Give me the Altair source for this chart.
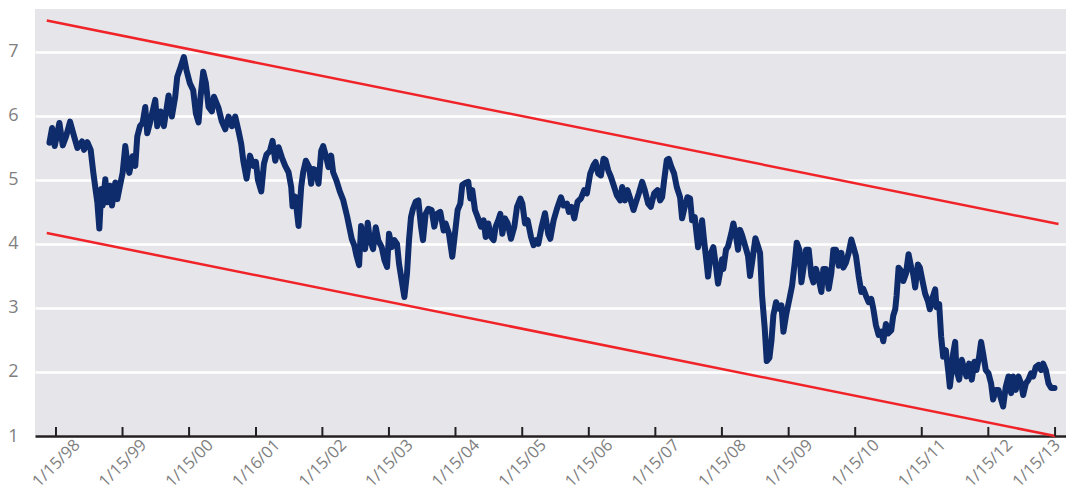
import altair as alt
import pandas as pd

# decimal-year positions and yield values
t_years = [
1997.94,1997.98,1998.02,1998.09,1998.14,1998.19,1998.25,1998.30,1998.36,1998.43,1998.46,1998.51,1998.56,1998.60,1998.64,1998.66,1998.69,1998.72,1998.74,1998.78,
1998.81,1998.85,1998.88,1998.93,1998.96,1999.00,1999.04,1999.08,1999.11,1999.14,1999.19,1999.23,1999.26,1999.30,1999.34,1999.38,1999.41,1999.45,1999.53,1999.56,
1999.61,1999.66,1999.73,1999.78,1999.83,1999.86,1999.91,1999.96,2000.00,2000.05,2000.10,2000.14,2000.18,2000.21,2000.25,2000.29,2000.33,2000.38,2000.41,2000.48,
2000.53,2000.58,2000.63,2000.68,2000.73,2000.78,2000.82,2000.85,2000.90,2000.95,2001.00,2001.04,2001.07,2001.12,2001.16,2001.20,2001.25,2001.29,2001.33,2001.38,
2001.43,2001.48,2001.53,2001.57,2001.59,2001.63,2001.68,2001.72,2001.75,2001.79,2001.84,2001.87,2001.90,2001.94,2001.98,2002.02,2002.05,2002.09,2002.13,2002.17,
2002.20,2002.25,2002.30,2002.35,2002.41,2002.44,2002.48,2002.52,2002.55,2002.59,2002.62,2002.65,2002.68,2002.72,2002.75,2002.80,2002.84,2002.88,2002.93,2002.97,
2003.01,2003.04,2003.08,2003.12,2003.16,2003.19,2003.23,2003.27,2003.31,2003.34,2003.37,2003.40,2003.44,2003.48,2003.52,2003.55,2003.59,2003.63,2003.68,2003.72,
2003.76,2003.81,2003.86,2003.89,2003.94,2003.99,2004.03,2004.07,2004.11,2004.14,2004.18,2004.23,2004.26,2004.29,2004.33,2004.37,2004.42,2004.46,2004.49,2004.53,
2004.57,2004.61,2004.64,2004.68,2004.71,2004.74,2004.78,2004.82,2004.87,2004.92,2004.96,2005.01,2005.04,2005.08,2005.12,2005.17,2005.21,2005.25,2005.28,2005.33,
2005.38,2005.43,2005.46,2005.51,2005.56,2005.62,2005.66,2005.71,2005.74,2005.78,2005.82,2005.87,2005.92,2005.97,2006.01,2006.06,2006.11,2006.14,2006.18,2006.22,
2006.26,2006.29,2006.33,2006.37,2006.42,2006.46,2006.51,2006.54,2006.58,2006.62,2006.66,2006.71,2006.74,2006.79,2006.84,2006.88,2006.93,2006.97,2007.02,2007.07,
2007.11,2007.14,2007.17,2007.21,2007.24,2007.28,2007.32,2007.36,2007.41,2007.44,2007.48,2007.52,2007.56,2007.59,2007.63,2007.68,2007.71,2007.74,2007.77,2007.81,
2007.83,2007.87,2007.91,2007.95,2007.98,2008.01,2008.04,2008.06,2008.10,2008.13,2008.18,2008.21,2008.25,2008.28,2008.31,2008.34,2008.39,2008.43,2008.46,2008.49,
2008.54,2008.58,2008.61,2008.64,2008.68,2008.71,2008.75,2008.78,2008.81,2008.85,2008.89,2008.93,2008.96,2009.00,2009.05,2009.09,2009.13,2009.16,2009.20,2009.23,
2009.26,2009.30,2009.34,2009.38,2009.41,2009.45,2009.49,2009.53,2009.56,2009.60,2009.64,2009.68,2009.71,2009.75,2009.79,2009.83,2009.86,2009.90,2009.94,2009.98,
2010.01,2010.05,2010.09,2010.13,2010.16,2010.20,2010.24,2010.28,2010.31,2010.35,2010.39,2010.43,2010.46,2010.50,2010.53,2010.58,2010.61,2010.64,2010.66,2010.69,
2010.73,2010.76,2010.80,2010.84,2010.88,2010.91,2010.94,2010.98,2011.01,2011.05,2011.09,2011.13,2011.16,2011.20,2011.24,2011.26,2011.30,2011.33,2011.36,2011.40,
2011.44,2011.46,2011.49,2011.51,2011.54,2011.56,2011.60,2011.64,2011.68,2011.71,2011.75,2011.79,2011.83,2011.86,2011.90,2011.93,2011.96,2012.00,2012.04,2012.08,
2012.11,2012.15,2012.19,2012.23,2012.26,2012.30,2012.34,2012.38,2012.41,2012.45,2012.49,2012.53,2012.56,2012.60,2012.64,2012.68,2012.71,2012.75,2012.79,2012.83,
2012.86,2012.90,2012.94,2012.98,2013.03,
]

yields = [
5.58,5.81,5.53,5.89,5.54,5.68,5.91,5.72,5.50,5.60,5.47,5.59,5.47,5.11,4.80,4.65,4.24,4.86,4.60,5.01,
4.65,4.91,4.60,4.96,4.70,4.91,5.11,5.53,5.27,5.11,5.37,5.22,5.68,5.84,5.89,6.14,5.73,5.89,6.25,5.84,
6.07,5.84,6.32,5.99,6.30,6.61,6.76,6.92,6.71,6.51,6.40,6.04,5.90,6.30,6.69,6.51,6.14,6.07,6.30,6.12,
5.91,5.79,5.99,5.84,5.99,5.76,5.56,5.30,5.02,5.38,5.22,5.28,5.00,4.82,5.25,5.40,5.45,5.61,5.30,5.51,
5.35,5.22,5.12,4.89,4.59,4.74,4.28,4.89,5.12,5.30,5.20,4.94,5.17,5.15,4.94,5.45,5.53,5.38,5.20,5.38,
5.12,4.99,4.82,4.69,4.43,4.28,4.08,3.97,3.82,3.67,4.28,3.97,3.92,4.33,4.08,3.92,4.26,4.05,3.95,3.75,
3.64,4.16,3.95,4.06,4.00,3.69,3.43,3.17,3.54,4.06,4.42,4.55,4.66,4.68,4.27,4.06,4.47,4.55,4.53,4.27,
4.47,4.50,4.21,4.32,4.16,3.80,4.16,4.53,4.63,4.92,4.95,4.97,4.71,4.84,4.53,4.42,4.27,4.37,4.11,4.32,
4.11,4.06,4.27,4.37,4.47,4.16,4.40,4.32,4.08,4.27,4.58,4.71,4.63,4.32,4.37,4.11,3.98,4.06,4.00,4.27,
4.48,4.15,4.08,4.37,4.55,4.73,4.60,4.63,4.50,4.58,4.40,4.66,4.71,4.84,4.79,5.10,5.23,5.28,5.10,5.07,
5.33,5.31,5.15,5.05,4.89,4.76,4.68,4.89,4.68,4.84,4.71,4.53,4.63,4.79,4.97,4.84,4.63,4.58,4.79,4.84,
4.68,4.73,4.99,5.31,5.33,5.20,5.10,4.89,4.73,4.40,4.58,4.73,4.71,4.37,4.42,3.95,4.11,4.37,4.06,3.69,
3.49,3.85,3.95,3.64,3.38,3.55,3.76,3.61,3.91,3.96,4.17,4.32,4.12,3.91,4.22,4.14,3.96,3.81,3.50,3.71,
4.09,3.96,3.86,3.19,2.68,2.17,2.22,2.48,2.89,3.09,2.99,3.04,2.63,2.89,3.14,3.35,3.71,4.02,3.91,3.40,
3.61,3.91,3.91,3.50,3.40,3.61,3.45,3.25,3.61,3.61,3.30,3.55,3.91,3.91,3.66,3.86,3.63,3.71,3.86,4.07,
3.96,3.81,3.50,3.25,3.30,3.19,3.09,3.14,2.99,2.73,2.58,2.63,2.48,2.75,2.60,2.65,2.88,2.98,3.19,3.63,
3.58,3.42,3.53,3.84,3.63,3.53,3.32,3.68,3.63,3.42,3.22,3.11,2.98,3.16,3.29,3.01,3.06,2.55,2.24,2.34,
1.98,1.77,2.03,2.29,2.47,2.03,1.88,2.19,2.03,1.93,2.13,1.88,2.16,2.03,2.24,2.47,2.29,2.03,1.98,1.82,
1.57,1.72,1.72,1.57,1.46,1.77,1.93,1.67,1.93,1.72,1.93,1.82,1.64,1.82,1.88,1.98,1.93,2.08,2.11,2.03,
2.13,2.03,1.82,1.75,1.75,
]

# trend channel lines (start / end)
trend_names = ["upper", "upper", "lower", "lower"]
trend_years = [1997.90, 2013.09, 1997.90, 2013.04]
trend_values = [7.49, 4.31, 4.17, 1.00]

tick_dates = ["1998-01-15", "1999-01-15", "2000-01-15", "2001-01-16", "2002-01-15",
              "2003-01-15", "2004-01-15", "2005-01-15", "2006-01-15", "2007-01-15",
              "2008-01-15", "2009-01-15", "2010-01-15", "2011-01-15", "2012-01-15",
              "2013-01-15"]
y_ticks = [1, 2, 3, 4, 5, 6, 7]


def to_date(y):
    yr = int(y)
    start = pd.Timestamp(yr, 1, 1)
    end = pd.Timestamp(yr + 1, 1, 1)
    return (start + (end - start) * (y - yr)).strftime("%Y-%m-%dT%H:%M:%S")


series = pd.DataFrame({"date": [to_date(t) for t in t_years], "value": yields})
trend = pd.DataFrame({"name": trend_names,
                      "date": [to_date(t) for t in trend_years],
                      "value": trend_values})
ticks = pd.DataFrame({"date": [d + "T00:00:00" for d in tick_dates]})

tick_vals = []
for d in tick_dates:
    yy, mm, dd = (int(p) for p in d.split("-"))
    tick_vals.append(alt.DateTime(year=yy, month=mm, date=dd))

x_scale = alt.Scale(domain=[alt.DateTime(year=1997, month=9, date=22),
                            alt.DateTime(year=2013, month=3, date=16)])
y_scale = alt.Scale(domain=[1, 7.67], nice=False, zero=False)

label_color = "#7f7f7f"

# keep the last (right-edge) label inside the page
last_label_shift = {"condition": {"test": "datum.value > time(datetime(2012, 6, 1))",
                                  "value": -19},
                    "value": 0}

x_axis = alt.Axis(values=tick_vals, format="%-m/%-d/%y", labelAngle=315,
                  labelAlign="center", labelBaseline="middle", labelPadding=27,
                  labelOffset=last_label_shift,
                  ticks=False, tickSize=0, grid=False, domain=True,
                  domainColor="#231f20", domainWidth=2.5, labelFontSize=16.5,
                  labelColor=label_color, labelOverlap=False, labelFlush=False,
                  labelBound=False, title=None)
y_axis = alt.Axis(values=y_ticks, format="d", labelFontSize=18,
                  labelColor=label_color, labelPadding=17, ticks=False,
                  tickSize=0, domain=False, grid=True, gridColor="white",
                  gridWidth=2.5, title=None)

line = alt.Chart(series).mark_line(
    color="#0e2b6b", strokeWidth=6, strokeJoin="round", strokeCap="round"
).encode(
    x=alt.X("date:T", scale=x_scale, axis=x_axis),
    y=alt.Y("value:Q", scale=y_scale, axis=y_axis),
)

trend_lines = alt.Chart(trend).mark_line(color="#ef2328", strokeWidth=2.5).encode(
    x=alt.X("date:T", scale=x_scale, axis=x_axis),
    y=alt.Y("value:Q", scale=y_scale, axis=y_axis),
    detail="name:N",
)

tick_marks = alt.Chart(ticks).mark_rule(color="#231f20", strokeWidth=2).encode(
    x=alt.X("date:T", scale=x_scale, axis=x_axis),
    y=alt.value(427),
    y2=alt.value(418),
)

chart = alt.layer(line, trend_lines, tick_marks).properties(
    width=1031, height=427,
    autosize=alt.AutoSizeParams(type="none"),
    padding={"left": 27, "top": 1, "right": 0, "bottom": 56},
).configure(font="Open Sans").configure_view(
    fill="#e6e6ea", stroke=None
)

chart.save("out.html", embed_options={"renderer": "svg", "actions": False})
